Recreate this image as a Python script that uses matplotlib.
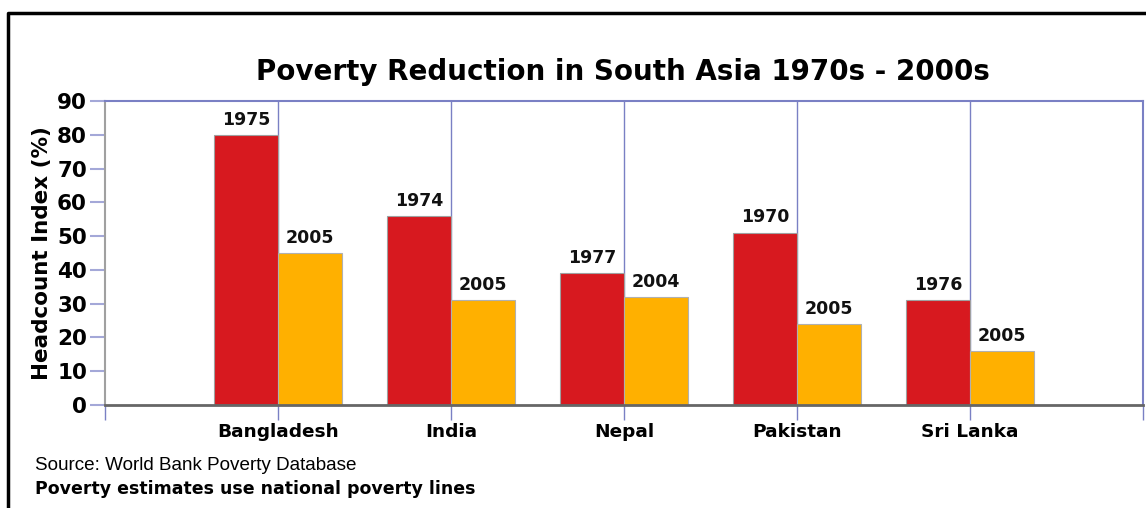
import matplotlib.pyplot as plt
import numpy as np

countries = ['Bangladesh', 'India', 'Nepal', 'Pakistan', 'Sri Lanka']
early = [80, 56, 39, 51, 31]
early_years = ['1975', '1974', '1977', '1970', '1976']
late = [45, 31, 32, 24, 16]
late_years = ['2005', '2005', '2004', '2005', '2005']

grid_col = '#7a80c4'
tick_col = '#a4a8d8'

fig = plt.figure(figsize=(11.46, 5.08), dpi=100)
ax = fig.add_axes([105 / 1146, 1 - 405 / 508, 1038 / 1146, 304 / 508])

x = np.arange(1, len(countries) + 1)
w = 0.37
b1 = ax.bar(x - w / 2, early, w, color='#d7191f', edgecolor='#a0a0a0', linewidth=0.8, zorder=3)
b2 = ax.bar(x + w / 2, late, w, color='#ffb000', edgecolor='#b0b0b0', linewidth=0.8, zorder=3)

for bars, labels in [(b1, early_years), (b2, late_years)]:
    for rect, lab in zip(bars, labels):
        ax.annotate(lab, (rect.get_x() + rect.get_width() / 2, rect.get_height()),
                    xytext=(0, 4.5), textcoords='offset points', ha='center', va='bottom',
                    fontsize=12.5, fontweight='bold', color='#111111')

ax.set_xlim(0, 6)
ax.set_ylim(0, 90)
ax.set_yticks(range(0, 91, 10))
ax.set_xticks(x)
ax.set_xticklabels(countries, fontsize=13.3, fontweight='bold')
ax.set_xticks([0, 6], minor=True)
ax.tick_params(axis='x', which='both', length=11, width=1, color=grid_col, pad=2)
ax.tick_params(axis='y', length=11, width=1.5, color=tick_col, pad=2, labelsize=15.5)
for lab in ax.get_yticklabels():
    lab.set_fontweight('bold')
ax.grid(axis='x', which='major', color=grid_col, linewidth=1, zorder=1)

for s in ['top', 'right']:
    ax.spines[s].set_color(grid_col)
    ax.spines[s].set_linewidth(1.5)
ax.spines['left'].set_color('#a0a0a0')
ax.spines['left'].set_linewidth(1.5)
ax.spines['bottom'].set_color('#666666')
ax.spines['bottom'].set_linewidth(2)
ax.spines['bottom'].set_zorder(4)

ax.set_ylabel('Headcount Index (%)', fontsize=15.5, fontweight='bold', labelpad=4)

fig.text(623 / 1146, 1 - 72 / 508, 'Poverty Reduction in South Asia 1970s - 2000s',
         ha='center', va='center', fontsize=20, fontweight='bold')
fig.text(35 / 1146, 1 - 466 / 508, 'Source: World Bank Poverty Database',
         ha='left', va='center', fontsize=13.6, family='Liberation Sans')
fig.text(35 / 1146, 1 - 489 / 508, 'Poverty estimates use national poverty lines',
         ha='left', va='center', fontsize=12.5, fontweight='bold')

# frame around the figure (top and left)
fig.add_artist(plt.Line2D([8 / 1146, 8 / 1146, 1], [0, 1 - 13 / 508, 1 - 13 / 508],
                          color='black', linewidth=2.5, transform=fig.transFigure))

fig.savefig('out.png', dpi=100)
